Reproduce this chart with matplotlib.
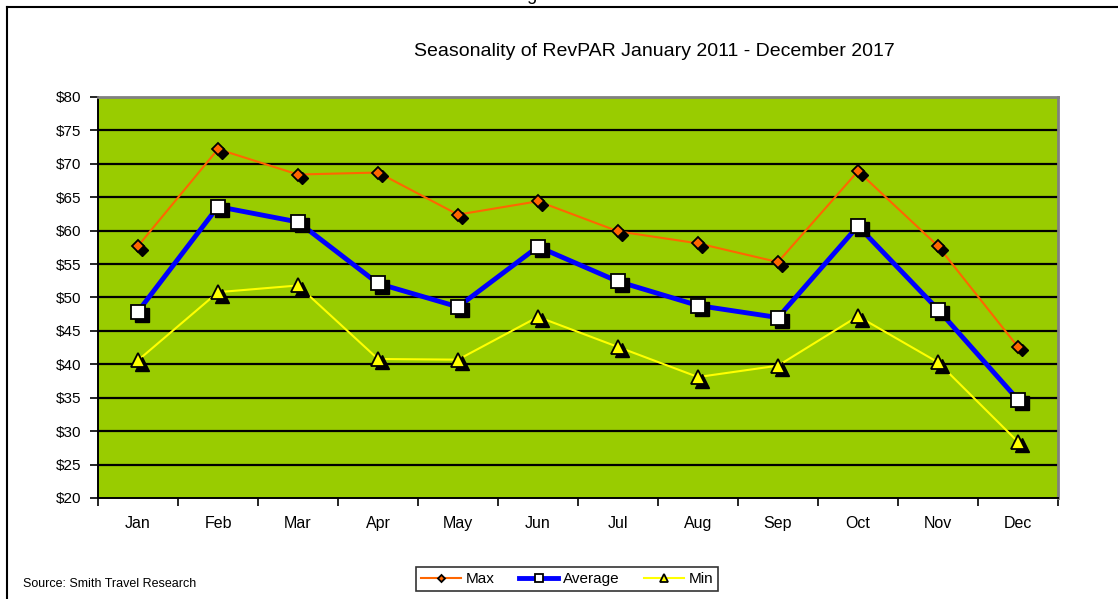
import matplotlib
matplotlib.use("Agg")
import matplotlib.pyplot as plt
import matplotlib.transforms as mtransforms
from matplotlib.lines import Line2D

plt.rcParams['font.family'] = ['Liberation Sans', 'DejaVu Sans']

# RevPAR seasonality, values
months = ["Jan", "Feb", "Mar", "Apr", "May", "Jun",
          "Jul", "Aug", "Sep", "Oct", "Nov", "Dec"]
rev_max = [57.7, 72.2, 68.4, 68.7, 62.4, 64.4, 59.9, 58.1, 55.3, 68.9, 57.7, 42.6]
rev_avg = [47.9, 63.6, 61.3, 52.1, 48.6, 57.6, 52.4, 48.8, 47.0, 60.7, 48.2, 34.7]
rev_min = [40.6, 50.8, 51.8, 40.8, 40.7, 47.1, 42.6, 38.1, 39.8, 47.2, 40.3, 28.4]
yticks = list(range(20, 85, 5))
ylabels = ["$%d" % v for v in yticks]

W, H = 1118, 599
fig = plt.figure(figsize=(W / 100, H / 100), dpi=100)
ax = fig.add_axes([98 / W, 1 - 498 / H, 960 / W, 401 / H])
ax.set_facecolor("#99CC00")

x = list(range(1, len(months) + 1))

# horizontal gridlines
for v in yticks[1:-1]:
    ax.axhline(v, color="black", linewidth=1.6, zorder=1)

series = [
    (rev_max, "Max", "#FF6600", 1.5, "D", 6, "#FF6600"),
    (rev_avg, "Average", "#0000FF", 3.5, "s", 10, "white"),
    (rev_min, "Min", "#FFFF00", 1.5, "^", 10, "#FFFF00"),
]
# excel-style drop shadow behind the markers
shadow = mtransforms.offset_copy(ax.transData, fig=fig, x=3.5, y=-3.5, units="dots")
handles = []
for vals, name, col, lw, mk, ms, fc in series:
    ax.plot(x, vals, color=col, linewidth=lw, zorder=3)
    ax.plot(x, vals, linestyle="none", marker=mk, markersize=ms,
            color="black", transform=shadow, zorder=4)
    ax.plot(x, vals, linestyle="none", marker=mk, markersize=ms,
            markerfacecolor=fc, markeredgecolor="black",
            markeredgewidth=1.3, zorder=5)
    handles.append(Line2D([], [], color=col, linewidth=lw, marker=mk,
                          markersize=ms * 0.6, markerfacecolor=fc,
                          markeredgecolor="black", markeredgewidth=1.3,
                          label=name))

ax.set_xlim(0.5, len(months) + 0.5)
ax.set_ylim(20, 80)
ax.set_yticks(yticks)
ax.set_yticklabels(ylabels, fontsize=11)
ax.set_xticks([i + 0.5 for i in range(len(months) + 1)])
ax.set_xticklabels([])
ax.set_xticks(x, minor=True)
ax.set_xticklabels(months, minor=True, fontsize=11.5)
ax.tick_params(axis="x", which="major", length=6, width=1.2, direction="out")
ax.tick_params(axis="x", which="minor", length=0, pad=13)
ax.tick_params(axis="y", length=6, width=1.2, direction="out", pad=6)

for side in ["left", "bottom"]:
    ax.spines[side].set_color("black")
    ax.spines[side].set_linewidth(1.4)
for side in ["top", "right"]:
    ax.spines[side].set_color("#808080")
    ax.spines[side].set_linewidth(2)

fig.text(654 / W, 1 - 52 / H, "Seasonality of RevPAR January 2011 - December 2017",
         ha="center", va="center", fontsize=14)
# caption above the frame, mostly cut off by the top edge as in the original
fig.text(512 / W, 1 - 0.5 / H, "Figure 3", ha="left", va="baseline", fontsize=13)
fig.text(23 / W, 1 - 584 / H, "Source: Smith Travel Research",
         ha="left", va="center", fontsize=9)

# outer frame (only top and left edges fall inside the image)
fig.add_artist(Line2D([7 / W, 7 / W], [0, 1 - 7 / H], color="black", linewidth=1.5))
fig.add_artist(Line2D([7 / W, 1], [1 - 7 / H, 1 - 7 / H], color="black", linewidth=1.5))

leg = fig.legend(handles=handles, loc="center", ncol=3,
                 bbox_to_anchor=(567 / W, 1 - 579 / H), fontsize=11,
                 frameon=True, fancybox=False, edgecolor="black",
                 handlelength=2.6, handletextpad=0.3, columnspacing=1.6,
                 borderpad=0.35, borderaxespad=0)
leg.get_frame().set_linewidth(1.2)

fig.savefig("out.png", dpi=100)
